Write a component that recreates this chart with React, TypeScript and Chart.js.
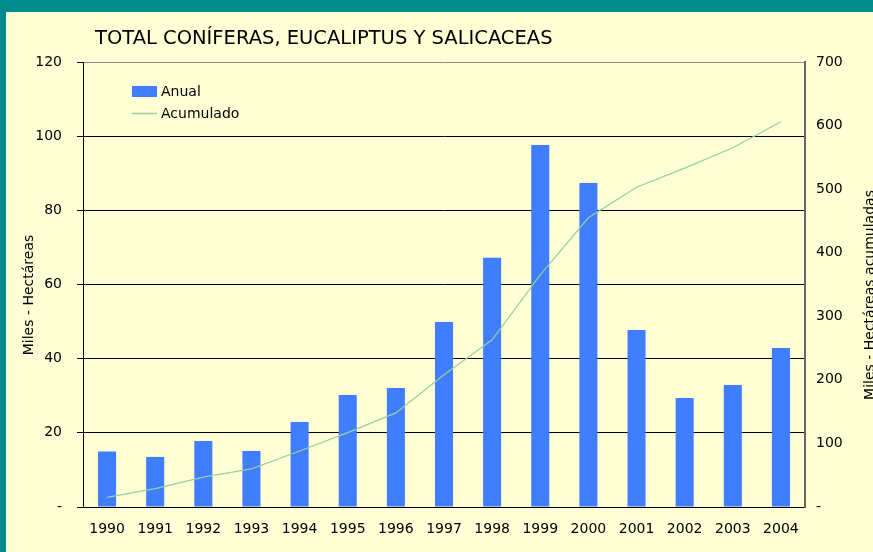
import React, { useEffect, useRef } from 'react';
import { Chart, registerables } from 'chart.js';

Chart.register(...registerables);

const TITLE = 'TOTAL CONÍFERAS, EUCALIPTUS Y SALICACEAS';
const LEFT_TITLE = 'Miles - Hectáreas';
const RIGHT_TITLE = 'Miles - Hectáreas acumuladas';
const SERIES_NAMES = ['Anual', 'Acumulado'];

const years = ['1990', '1991', '1992', '1993', '1994', '1995', '1996', '1997', '1998', '1999', '2000', '2001', '2002', '2003', '2004'];
const anual = [15.0, 13.5, 17.8, 15.1, 22.9, 30.2, 32.1, 49.9, 67.2, 97.6, 87.4, 47.7, 29.4, 32.9, 42.9];
const acumulado = [15, 29, 47, 60, 88, 117, 148, 208, 263, 365, 455, 503, 533, 565, 606];

const leftMax = 120;
const leftStep = 20;
const rightMax = 700;
const rightStep = 100;

const TEAL = '#008c8c';
const BG = '#ffffd5';
const BAR = '#417dff';
const LINE = '#93d0a6';
const FONT = '"DejaVu Sans", Verdana, sans-serif';

const decor = {
  id: 'decor',
  afterDraw(chart: any) {
    const ctx = chart.ctx as CanvasRenderingContext2D;
    ctx.save();
    ctx.fillStyle = '#000';
    ctx.textAlign = 'left';
    ctx.textBaseline = 'alphabetic';
    ctx.font = `19.5px ${FONT}`;
    ctx.fillText(TITLE, 89, 32);

    ctx.font = `14px ${FONT}`;
    ctx.save();
    ctx.translate(27, 283);
    ctx.rotate(-Math.PI / 2);
    ctx.textAlign = 'center';
    ctx.fillText(LEFT_TITLE, 0, 0);
    ctx.restore();

    ctx.save();
    ctx.translate(868, 283);
    ctx.rotate(-Math.PI / 2);
    ctx.textAlign = 'center';
    ctx.fillText(RIGHT_TITLE, 0, 0);
    ctx.restore();

    // legend
    ctx.fillStyle = BAR;
    ctx.fillRect(126, 74, 25, 11);
    ctx.strokeStyle = LINE;
    ctx.lineWidth = 1.5;
    ctx.beginPath();
    ctx.moveTo(126, 101.5);
    ctx.lineTo(151, 101.5);
    ctx.stroke();
    ctx.fillStyle = '#000';
    ctx.textBaseline = 'middle';
    ctx.textAlign = 'left';
    ctx.fillText(SERIES_NAMES[0], 155, 80);
    ctx.fillText(SERIES_NAMES[1], 155, 102);
    ctx.restore();
  },
};

export default function App() {
  const ref = useRef<HTMLCanvasElement | null>(null);

  useEffect(() => {
    if (!ref.current) return;
    const chart = new Chart(ref.current, {
      type: 'bar',
      data: {
        labels: years,
        datasets: [
          {
            type: 'line',
            label: SERIES_NAMES[1],
            data: acumulado,
            yAxisID: 'y1',
            borderColor: LINE,
            backgroundColor: LINE,
            borderWidth: 1.2,
            pointRadius: 0,
            tension: 0,
            order: 0,
          } as any,
          {
            type: 'bar',
            label: SERIES_NAMES[0],
            data: anual,
            yAxisID: 'y',
            backgroundColor: BAR,
            borderWidth: 0,
            barPercentage: 0.375,
            categoryPercentage: 1,
            order: 1,
          },
        ],
      },
      options: {
        responsive: false,
        animation: false,
        devicePixelRatio: 1,
        layout: { padding: { top: 50, left: 0, right: 0, bottom: 0 } },
        plugins: {
          legend: { display: false },
          tooltip: { enabled: false },
          title: { display: false },
        },
        scales: {
          x: {
            grid: { display: false, drawTicks: false },
            border: { display: true, color: '#000', width: 1 },
            ticks: { color: '#000', font: { family: FONT, size: 14 }, padding: 14, maxRotation: 0, autoSkip: false },
            afterFit: (s: any) => { s.height = 45; },
          },
          y: {
            position: 'left',
            min: 0,
            max: leftMax,
            ticks: {
              stepSize: leftStep,
              color: '#000',
              font: { family: FONT, size: 14 },
              padding: 15,
              callback: (v: any) => (Number(v) === 0 ? '-' : String(v)),
            },
            grid: {
              color: (c: any) => (c.tick && c.tick.value === leftMax ? '#8a8a8a' : '#000'),
              tickColor: '#000',
              tickLength: 6,
              lineWidth: 1,
            },
            border: { display: true, color: '#000', width: 1 },
            afterFit: (s: any) => { s.width = 77; },
          },
          y1: {
            position: 'right',
            min: 0,
            max: rightMax,
            ticks: {
              stepSize: rightStep,
              color: '#000',
              font: { family: FONT, size: 14 },
              padding: 11,
              callback: (v: any) => (Number(v) === 0 ? '-' : String(v)),
            },
            grid: { display: false, drawTicks: false },
            border: { display: true, color: '#666', width: 2 },
            afterFit: (s: any) => { s.width = 68; },
          },
        },
      } as any,
      plugins: [decor],
    });
    return () => chart.destroy();
  }, []);

  return (
    <div style={{ position: 'fixed', left: 0, top: 0, width: 873, height: 552, background: TEAL, overflow: 'hidden' }}>
      <div style={{ position: 'absolute', left: 6, top: 12, width: 867, height: 540, background: BG }}>
        <canvas ref={ref} width={867} height={540} style={{ width: 867, height: 540, display: 'block' }} />
      </div>
    </div>
  );
}
